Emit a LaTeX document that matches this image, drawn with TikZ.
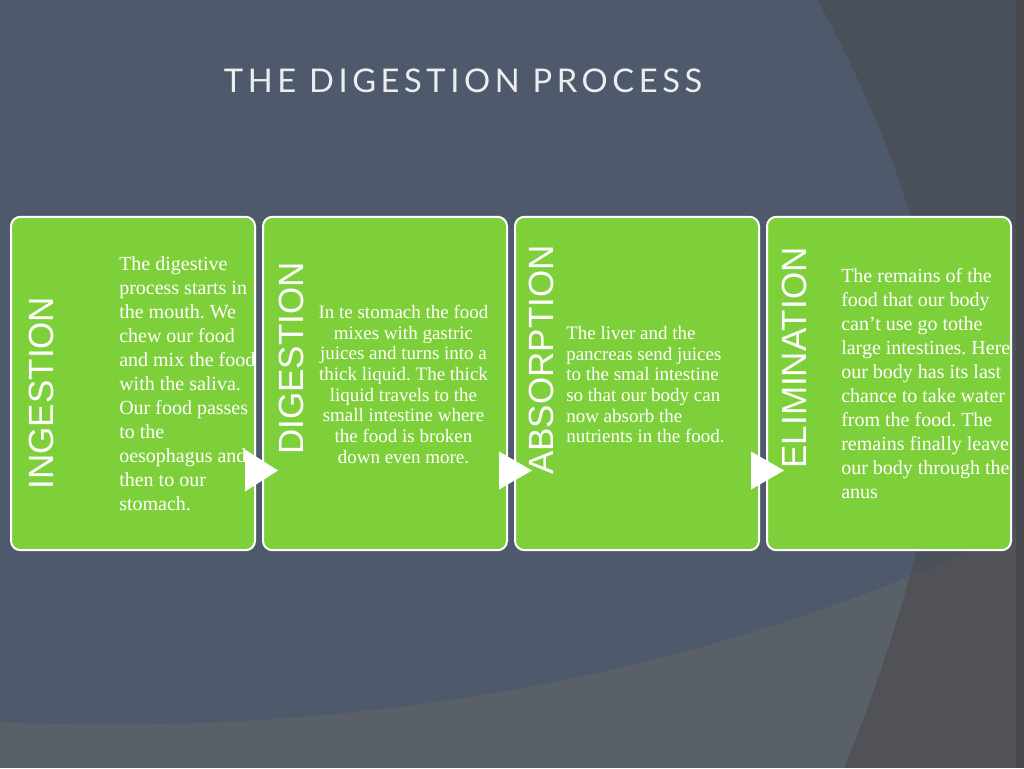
\documentclass[tikz,border=0pt]{standalone}
\usepackage{fontspec}
\setmainfont{Liberation Serif}
\newfontfamily\labelfont{Liberation Sans}
\newfontfamily\titlefont[LetterSpace=14]{Lato}
\usetikzlibrary{positioning,calc}
\definecolor{bgblue}{RGB}{78,90,108}
\definecolor{bggray}{RGB}{90,96,104}
\definecolor{bgdark}{RGB}{80,82,88}
\definecolor{bgdarktop}{RGB}{74,80,90}
\definecolor{bgedge}{RGB}{70,72,78}
\definecolor{stagegreen}{RGB}{126,208,58}
\frenchspacing
\begin{document}
\begin{tikzpicture}[
        x=0.75pt, y=-0.75pt,
        stage/.style={rectangle, rounded corners=7pt, draw=white, line width=1.5pt, fill=stagegreen, minimum width=183pt, minimum height=250pt},
        stagename/.style={rotate=90, text=white, inner sep=0pt, font=\labelfont\fontsize{26.25}{30}\selectfont},
        bodybig/.style={text=white, inner sep=0pt, align=left, font=\fontsize{15}{18}\selectfont},
        bodysmall/.style={text=white, inner sep=0pt, align=left, font=\fontsize{14.25}{15.5}\selectfont}
    ]
    \useasboundingbox (0,0) rectangle (1024,768);
    % background
    \fill[bgdark] (0,0) rectangle (1024,768);
    \fill[bgdarktop] (0,0) -- (1024,0) -- (1024,525) .. controls (750,660) and (400,740) .. (0,722) -- cycle;
    \begin{scope}
        \clip (0,0) -- (817,0) .. controls (900,150) and (960,330) .. (935,460) .. controls (920,560) and (880,680) .. (844,768) -- (0,768) -- cycle;
        \fill[bggray] (0,0) rectangle (1024,768);
        \fill[bgblue] (0,0) -- (1024,0) -- (1024,525) .. controls (750,660) and (400,740) .. (0,722) -- cycle;
    \end{scope}
    \fill[bgedge] (1016,0) rectangle (1024,768);

    \node[text=white!93!black, inner sep=0pt, font=\titlefont\fontsize{24.5}{28}\selectfont] (title) at (463,81) {THE DIGESTION PROCESS};

    % the four stages
    \node[stage] (ing) at (133,383.5) {};
    \node[stage, right=4.5pt of ing] (dig) {};
    \node[stage, right=4.5pt of dig] (abs) {};
    \node[stage, right=4.5pt of abs] (eli) {};

    \node[stagename] (ingname) at (41,393) {INGESTION};
    \node[stagename] (digname) at (291.5,358.5) {DIGESTION};
    \node[stagename] (absname) at (541.5,360) {ABSORPTION};
    \node[stagename] (eliname) at (794,358) {ELIMINATION};

    \node[bodybig, anchor=north west] (ingtext) at (119,256) {
        The digestive\\
        process starts in\\
        the mouth. We\\
        chew our food\\
        and mix the food\\
        with the saliva.\\
        Our food passes\\
        to the\\
        oesophagus and\\
        then to our\\
        stomach.
    };
    \node[bodysmall, align=center, anchor=north] (digtext) at (403.5,305) {
        In te stomach the food\\
        mixes with gastric\\
        juices and turns into a\\
        thick liquid. The thick\\
        liquid travels to the\\
        small intestine where\\
        the food is broken\\
        down even more.
    };
    \node[bodysmall, anchor=north west] (abstext) at (566,326) {
        The liver and the\\
        pancreas send juices\\
        to the smal intestine\\
        so that our body can\\
        now absorb the\\
        nutrients in the food.
    };
    \node[bodybig, anchor=north west] (elitext) at (841,268) {
        The remains of the\\
        food that our body\\
        can’t use go tothe\\
        large intestines. Here\\
        our body has its last\\
        chance to take water\\
        from the food. The\\
        remains finally leave\\
        our body through the\\
        anus
    };

    % arrow heads between stages
    \fill[white] ($(ing.east)+(-11,66)$) -- ++(33,21) -- ++(-33,21) -- cycle;
    \fill[white] ($(dig.east)+(-9,68)$) -- ++(33,19) -- ++(-33,19) -- cycle;
    \fill[white] ($(abs.east)+(-9,68)$) -- ++(33,19) -- ++(-33,19) -- cycle;
\end{tikzpicture}
\end{document}
